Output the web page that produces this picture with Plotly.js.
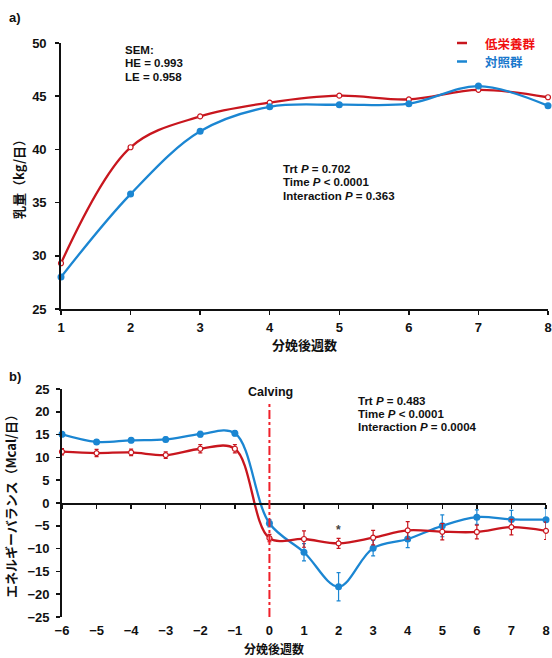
<!DOCTYPE html>
<html>
<head>
<meta charset="utf-8">
<script src="https://cdn.plot.ly/plotly-3.0.1.min.js"></script>
<style>html,body{margin:0;padding:0;background:#fff;}#chart{width:552px;height:658px;}</style>
</head>
<body>
<div id="chart"></div>
<script>
// ---------- data ----------
var weeksA = [1, 2, 3, 4, 5, 6, 7, 8];
var lowA   = [29.3, 40.2, 43.1, 44.4, 45.05, 44.7, 45.6, 44.9];
var ctrlA  = [28.0, 35.8, 41.7, 44.0, 44.2, 44.3, 45.95, 44.1];

var weeksB   = [-6, -5, -4, -3, -2, -1, 0, 1, 2, 3, 4, 5, 6, 7, 8];
var lowB     = [11.25, 10.95, 11.1, 10.5, 11.9, 11.9, -7.7, -7.9, -8.85, -7.6, -6.0, -6.3, -6.35, -5.3, -6.1];
var lowBerr  = [0.7, 0.8, 0.7, 0.7, 0.9, 0.9, 0.8, 1.8, 1.1, 1.6, 1.9, 1.8, 1.5, 1.7, 1.9];
var ctrlB    = [15.05, 13.4, 13.75, 13.95, 15.1, 15.3, -4.45, -10.8, -18.35, -9.9, -7.9, -5.0, -3.1, -3.6, -3.65];
var ctrlBerr = [0.5, 0.5, 0.5, 0.5, 0.6, 0.6, 0.8, 1.9, 3.1, 1.7, 1.9, 2.4, 1.6, 2.0, 2.5];

var seriesNames = ['低栄養群', '対照群'];
var statsA = ['Trt <i>P</i> = 0.702', 'Time <i>P</i> < 0.0001', 'Interaction <i>P</i> = 0.363'];
var statsB = ['Trt <i>P</i> = 0.483', 'Time <i>P</i> < 0.0001', 'Interaction <i>P</i> = 0.0004'];
var semText = ['SEM:', 'HE = 0.993', 'LE = 0.958'];
var calvingWeek = 0;
var calvingTop = 21.7;
var sigWeek = 2, sigY = -5.9;

// ---------- styles ----------
var RED = '#c8161e', BLUE = '#1b86d2';
var LEG_RED = '#f01010', LEG_BLUE = '#1a78cc';
var W = 552, H = 658;
function px(x) { return x / W; }
function py(y) { return 1 - y / H; }
var NUM = 'Liberation Sans, Arial, sans-serif';
var CJK = 'Noto Sans CJK JP, sans-serif';
var tickFont = {family: NUM, size: 13, color: '#111', weight: 'bold'};

function line(x, y, color, filled, xa, ya, err) {
  var t = {
    x: x, y: y, xaxis: xa, yaxis: ya, type: 'scatter', mode: 'lines+markers',
    line: {color: color, width: 2.3, shape: 'spline', smoothing: 1},
    marker: filled ? {color: color, size: 7, line: {width: 0}}
                   : {color: '#fff', size: 5, symbol: 'circle', line: {color: color, width: 1.2}},
    cliponaxis: false, showlegend: false, hoverinfo: 'x+y'
  };
  if (err) t.error_y = {type: 'data', array: err, visible: true, color: color, thickness: 1.2, width: 2};
  return t;
}

var traces = [
  line(weeksA, lowA, RED, false, 'x', 'y'),
  line(weeksA, ctrlA, BLUE, true, 'x', 'y'),
  line(weeksB, ctrlB, BLUE, true, 'x2', 'y2', ctrlBerr),
  line(weeksB, lowB, RED, false, 'x2', 'y2', lowBerr),
  // zero-line axis carrier (no data)
  {x: [], y: [], xaxis: 'x3', yaxis: 'y2', type: 'scatter', mode: 'lines', showlegend: false, hoverinfo: 'skip'}
];

var anns = [];
function txt(x, y, text, opt) {
  var a = Object.assign({xref: 'paper', yref: 'paper', x: px(x), y: py(y), text: text, showarrow: false,
    borderpad: 0, xanchor: 'left', yanchor: 'middle',
    font: {family: NUM, size: 11.5, color: '#111', weight: 'bold'}}, opt || {});
  anns.push(a);
}
txt(8, 18, 'a)', {font: {family: NUM, size: 13, color: '#111', weight: 'bold'}});
txt(8, 376, 'b)', {font: {family: NUM, size: 13, color: '#111', weight: 'bold'}});
semText.forEach(function (s, i) { txt(124, 50 + i * 13.5, s); });
statsA.forEach(function (s, i) { txt(282, 169 + i * 13.5, s); });
statsB.forEach(function (s, i) { txt(357, 400.5 + i * 13.2, s); });
txt(270, 392, 'Calving', {xanchor: 'center', font: {family: NUM, size: 12.5, color: '#111', weight: 'bold'}});
anns.push({xref: 'x2', yref: 'y2', x: sigWeek, y: sigY, text: '*', showarrow: false,
  font: {family: NUM, size: 12, color: '#444', weight: 'bold'}});
// legend
var legCols = [LEG_RED, LEG_BLUE];
var legY = [43, 61.5];
seriesNames.forEach(function (n, i) {
  txt(484, legY[i], n, {font: {family: CJK, size: 12.5, color: legCols[i], weight: 'bold'}});
});
// bottom x title
txt(274, 648, '分娩後週数', {xanchor: 'center', font: {family: CJK, size: 12, color: '#111', weight: 'bold'}});

var shapes = [
  {type: 'line', xref: 'x2', yref: 'y2', x0: calvingWeek, x1: calvingWeek, y0: -25, y1: calvingTop,
   line: {color: '#f0202a', width: 2, dash: 'dashdot'}},
  {type: 'line', xref: 'paper', yref: 'paper', x0: px(457), x1: px(467), y0: py(legY[0]), y1: py(legY[0]),
   line: {color: RED, width: 2.5}},
  {type: 'line', xref: 'paper', yref: 'paper', x0: px(457), x1: px(467), y0: py(legY[1]), y1: py(legY[1]),
   line: {color: BLUE, width: 2.5}}
];

var axLine = {showline: true, linecolor: '#111', linewidth: 1.8, showgrid: false, zeroline: false,
  ticks: 'outside', tickcolor: '#111', tickwidth: 1.5, ticklen: 4, tickfont: tickFont, automargin: false};

var layout = {
  width: W, height: H, margin: {l: 0, r: 0, t: 0, b: 0},
  paper_bgcolor: '#fff', plot_bgcolor: '#fff', showlegend: false,
  xaxis: Object.assign({}, axLine, {domain: [px(61), px(548)], anchor: 'y', range: [1, 8], dtick: 1,
    tick0: 1, ticklabelstandoff: 2,
    title: {text: '分娩後週数', standoff: 5, font: {family: CJK, size: 13, color: '#111', weight: 'bold'}}}),
  yaxis: Object.assign({}, axLine, {domain: [py(309), py(43)], anchor: 'x', range: [25, 50], dtick: 5,
    ticklabelstandoff: 6,
    title: {text: '乳量（kg/日）', standoff: 4, font: {family: CJK, size: 13, color: '#111', weight: 'bold'}}}),
  xaxis2: Object.assign({}, axLine, {domain: [px(62), px(546)], anchor: 'y2', range: [-6, 8], dtick: 1,
    tick0: 0, showline: false, ticks: '', ticklabelstandoff: 4}),
  yaxis2: Object.assign({}, axLine, {domain: [py(617), py(389)], anchor: 'x2', range: [-25, 25], dtick: 5,
    ticklabelstandoff: 4,
    title: {text: 'エネルギーバランス（Mcal/日）', standoff: 8, font: {family: CJK, size: 13, color: '#111', weight: 'bold'}}}),
  xaxis3: Object.assign({}, axLine, {overlaying: 'x2', anchor: 'free', position: py(503), side: 'bottom',
    range: [-6, 8], dtick: 1, tick0: 0, showticklabels: false, linewidth: 1.5}),
  annotations: anns,
  shapes: shapes
};

Plotly.newPlot('chart', traces, layout, {displayModeBar: false, staticPlot: true});
</script>
</body>
</html>
